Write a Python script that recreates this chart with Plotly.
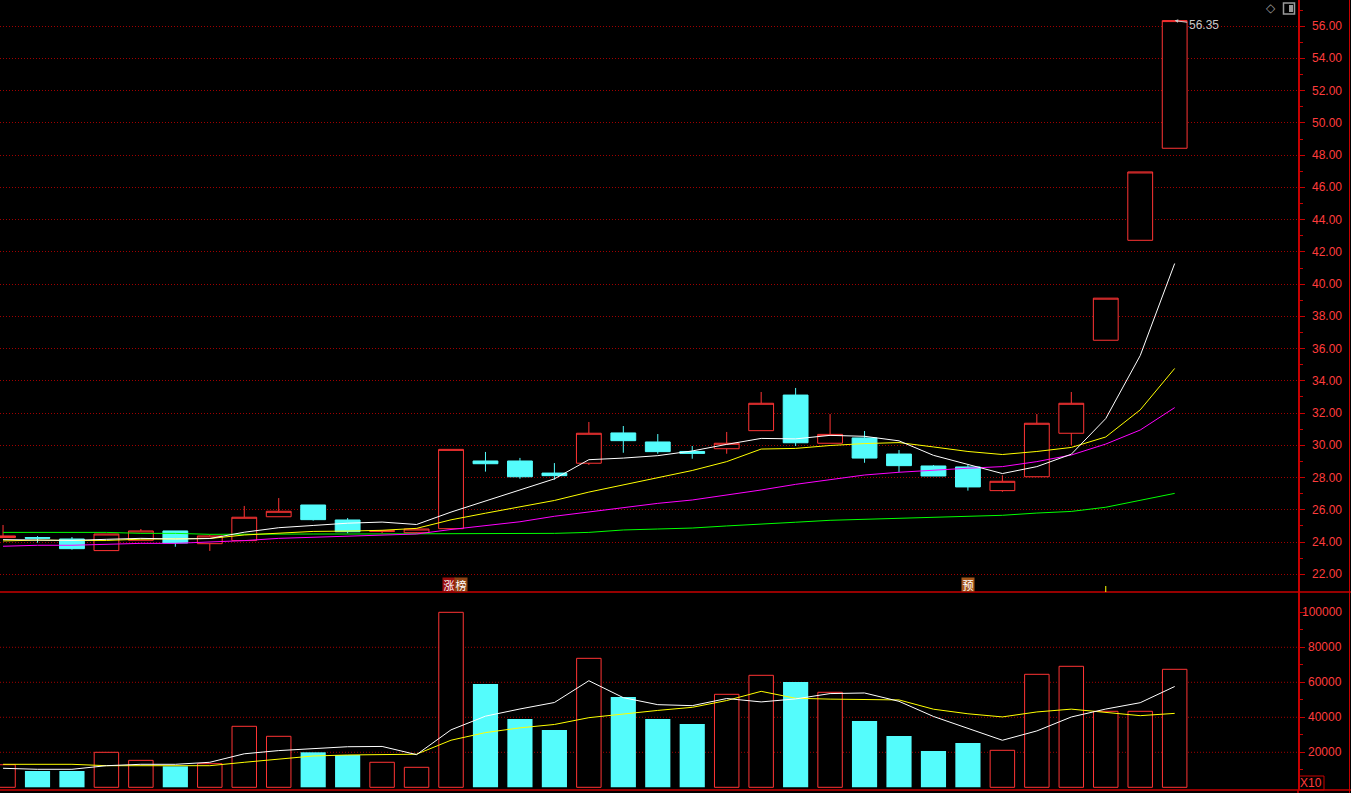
import plotly.graph_objects as go

# ---------------- data ----------------
idx = list(range(35))

opens = [24.28, 24.28, 24.19, 23.47, 24.11, 24.69, 23.90, 24.09, 25.57, 26.30,
         25.37, 24.66, 24.58, 24.83, 29.03, 29.03, 28.28, 28.89, 30.77, 30.21,
         29.62, 29.79, 30.91, 33.12, 30.13, 30.46, 29.46, 28.72, 28.66, 27.19,
         28.05, 30.75, 36.52, 42.72, 48.43]
highs = [25.06, 24.37, 24.31, 24.50, 24.81, 24.69, 24.44, 26.24, 26.73, 26.30,
         25.49, 24.75, 24.85, 29.75, 29.59, 29.22, 28.90, 31.45, 31.20, 30.70,
         29.96, 30.83, 33.31, 33.56, 31.94, 30.89, 29.71, 28.78, 28.78, 28.14,
         31.94, 33.31, 39.13, 46.96, 56.35]
lows = [24.28, 23.96, 23.53, 23.47, 24.10, 23.71, 23.45, 24.09, 25.57, 25.33,
        24.54, 24.55, 24.55, 24.83, 28.37, 27.93, 27.87, 28.78, 29.54, 29.48,
        29.17, 29.48, 30.91, 29.96, 30.13, 28.92, 28.35, 28.10, 27.19, 27.12,
        28.05, 30.02, 36.52, 42.72, 48.43]
closes = [24.38, 24.24, 23.59, 24.50, 24.69, 23.94, 24.38, 25.54, 25.91, 25.39,
          24.64, 24.70, 24.81, 29.75, 28.86, 28.05, 28.12, 30.75, 30.29, 29.61,
          29.50, 30.13, 32.61, 30.16, 30.68, 29.21, 28.74, 28.10, 27.42, 27.77,
          31.37, 32.61, 39.13, 46.96, 56.35]

ma5 = [24.15, 24.12, 24.10, 24.17, 24.23, 24.19, 24.22, 24.61, 24.89, 25.03,
       25.17, 25.24, 25.09, 25.86, 26.55, 27.23, 27.92, 29.11, 29.21, 29.36,
       29.65, 30.06, 30.43, 30.40, 30.62, 30.56, 30.28, 29.38, 28.83, 28.25,
       28.68, 29.45, 31.66, 35.57, 41.28]
ma10 = [24.07, 24.12, 24.10, 24.10, 24.18, 24.19, 24.22, 24.44, 24.54, 24.66,
        24.68, 24.73, 24.85, 25.38, 25.79, 26.20, 26.58, 27.10, 27.54, 27.96,
        28.44, 28.99, 29.77, 29.81, 29.99, 30.11, 30.17, 29.90, 29.62, 29.43,
        29.62, 29.87, 30.52, 32.20, 34.77]
ma20 = [23.74, 23.80, 23.80, 23.86, 23.92, 23.92, 23.99, 24.09, 24.23, 24.29,
        24.38, 24.44, 24.50, 24.78, 25.00, 25.26, 25.60, 25.88, 26.16, 26.40,
        26.61, 26.90, 27.23, 27.58, 27.85, 28.16, 28.33, 28.47, 28.58, 28.68,
        28.99, 29.40, 30.08, 30.95, 32.34]
ma60 = [24.60, 24.60, 24.60, 24.60, 24.54, 24.54, 24.48, 24.50, 24.50, 24.50,
        24.50, 24.50, 24.50, 24.50, 24.50, 24.54, 24.54, 24.60, 24.75, 24.81,
        24.87, 25.00, 25.10, 25.23, 25.35, 25.41, 25.47, 25.54, 25.60, 25.66,
        25.80, 25.90, 26.16, 26.57, 27.02]

volumes = [12900, 9300, 9300, 20000, 15400, 12000, 13500, 34850, 29140, 20000,
           18450, 14300, 11430, 100000, 59030, 39030, 32740, 73700, 51600, 39030,
           36170, 53140, 64000, 60170, 54290, 37890, 29310, 20740, 25310, 21140,
           64570, 69140, 43430, 43430, 67430]
vol_ma5 = [10860, 10290, 10290, 12340, 13140, 13140, 14290, 19150, 20980, 21900,
           23190, 23350, 18660, 32840, 40640, 44760, 48450, 60900, 51220, 47220,
           46650, 50730, 48790, 50500, 53550, 53900, 49130, 40480, 33510, 26880,
           32210, 40180, 44720, 48340, 57600]
vol_ma10 = [13140, 13140, 13140, 12340, 12340, 12340, 12340, 14290, 16000, 17890,
            18460, 18860, 18910, 26910, 31270, 33970, 35900, 39780, 42030, 43930,
            45700, 49590, 54840, 50860, 50390, 50270, 49930, 44630, 42010, 40220,
            43060, 44660, 42600, 40930, 42240]

price_ticks = [22, 24, 26, 28, 30, 32, 34, 36, 38, 40, 42, 44, 46, 48, 50, 52, 54, 56]
price_minor = [23, 25, 27, 29, 31, 33, 35, 37, 39, 41, 43, 45, 47, 49, 51, 53, 55, 57]
vol_ticks = [20000, 40000, 60000, 80000, 100000]
vol_grid = [20000, 40000, 60000, 80000]
vol_minor = [10000, 30000, 50000, 70000, 90000]

marker_labels = [(13, ["涨", "榜"], ["#9a0c0c", "#8e4212"]), (28, ["预"], ["#a6561a"])]
high_label = "56.35"

# ---------------- styling / geometry ----------------
W, H = 1351, 793
PW = 1298          # plot width (px) – axis line at right edge
PH = 790           # plot height (px)
SPLIT = 592        # px where price panel ends
BG = "#000000"
RED = "#ff3434"
CYAN = "#54fcfc"
AXIS = "#c80000"
GRID = "#a00000"
LABEL = "#ff3c3c"
FONT = "Liberation Sans, Arial, sans-serif"

step_px = 34.46
x0_px = 3.04
xmin = -x0_px / step_px
xmax = xmin + PW / step_px

split_paper = 1 - SPLIT / PH

def py(px):
    return 1 - px / PH

def pxx(px):
    return px / PW

fig = go.Figure()

fig.add_trace(go.Candlestick(
    x=idx, open=opens, high=highs, low=lows, close=closes,
    increasing=dict(line=dict(color=RED, width=1), fillcolor=BG),
    decreasing=dict(line=dict(color=CYAN, width=1), fillcolor=CYAN),
    whiskerwidth=0, showlegend=False, hoverinfo="skip",
    xaxis="x", yaxis="y"))

for vals, col in [(ma60, "#00ff00"), (ma20, "#ff00ff"), (ma10, "#ffff00"), (ma5, "#ffffff")]:
    fig.add_trace(go.Scatter(x=idx, y=vals, mode="lines", line=dict(color=col, width=1),
                             showlegend=False, hoverinfo="skip", xaxis="x", yaxis="y"))

up_x = [i for i in idx if closes[i] >= opens[i]]
dn_x = [i for i in idx if closes[i] < opens[i]]
fig.add_trace(go.Bar(x=up_x, y=[volumes[i] for i in up_x], width=0.71,
                     marker=dict(color=BG, line=dict(color=RED, width=1)),
                     showlegend=False, hoverinfo="skip", xaxis="x", yaxis="y2"))
fig.add_trace(go.Bar(x=dn_x, y=[volumes[i] for i in dn_x], width=0.73,
                     marker=dict(color=CYAN, line=dict(width=0)),
                     showlegend=False, hoverinfo="skip", xaxis="x", yaxis="y2"))
for vals, col in [(vol_ma10, "#ffff00"), (vol_ma5, "#ffffff")]:
    fig.add_trace(go.Scatter(x=idx, y=vals, mode="lines", line=dict(color=col, width=1),
                             showlegend=False, hoverinfo="skip", xaxis="x", yaxis="y2"))

shapes = []
# volume grid lines
for v in vol_grid:
    shapes.append(dict(type="line", xref="paper", x0=0, x1=1, yref="y2", y0=v, y1=v,
                       line=dict(color=GRID, width=1, dash="1px,2px"), layer="below"))
# panel separators and borders
shapes.append(dict(type="line", xref="paper", x0=0, x1=W / PW, yref="paper",
                   y0=split_paper, y1=split_paper, line=dict(color=AXIS, width=1.5)))
shapes.append(dict(type="line", xref="paper", x0=0, x1=W / PW, yref="paper",
                   y0=py(790), y1=py(790), line=dict(color=AXIS, width=1.5)))
shapes.append(dict(type="line", xref="paper", x0=pxx(1349.5), x1=pxx(1349.5), yref="paper",
                   y0=py(793), y1=1, line=dict(color=AXIS, width=1)))
shapes.append(dict(type="line", xref="paper", x0=pxx(PW), x1=pxx(PW), yref="paper",
                   y0=py(793), y1=py(790), line=dict(color=AXIS, width=1.5)))
# X10 box
shapes.append(dict(type="rect", xref="paper", yref="paper", x0=pxx(1299), x1=pxx(1324),
                   y0=py(790), y1=py(776), line=dict(color=AXIS, width=1)))
# small yellow tick near bottom of price panel
shapes.append(dict(type="line", xref="x", x0=32, x1=32, yref="paper",
                   y0=split_paper, y1=py(586), line=dict(color="#ffff00", width=1)))
# top-right icon (square)
shapes.append(dict(type="rect", xref="paper", yref="paper", x0=pxx(1283.5), x1=pxx(1294.5),
                   y0=py(14), y1=py(3), line=dict(color="#9a9a9a", width=1.5)))
shapes.append(dict(type="rect", xref="paper", yref="paper", x0=pxx(1289), x1=pxx(1293),
                   y0=py(12), y1=py(5), line=dict(width=0), fillcolor="#9a9a9a"))

annotations = []
for v in price_ticks:
    annotations.append(dict(xref="paper", x=pxx(1344), xanchor="right", yref="y", y=v,
                            yanchor="middle", text=f"{v:.2f}", showarrow=False,
                            font=dict(family=FONT, size=12, color=LABEL)))
for v in vol_ticks:
    annotations.append(dict(xref="paper", x=pxx(1344), xanchor="right", yref="y2", y=v,
                            yanchor="middle", text=f"{v}", showarrow=False,
                            font=dict(family=FONT, size=12, color=LABEL)))
annotations.append(dict(xref="paper", x=pxx(1311.5), xanchor="center", yref="paper",
                        y=py(783), yanchor="middle", text="X10",
                        showarrow=False, font=dict(family=FONT, size=12, color=LABEL)))
annotations.append(dict(xref="x", x=idx[-1], yref="y", y=highs[-1], text=high_label,
                        showarrow=True, ax=29, ay=4, arrowhead=2, arrowsize=0.7,
                        arrowwidth=1, arrowcolor="#c8c8c8", standoff=0,
                        font=dict(family=FONT, size=12, color="#c8c8c8")))
for ci, chars, cols in marker_labels:
    n = len(chars)
    for k, (ch, bg) in enumerate(zip(chars, cols)):
        shift = (k - (n - 1) / 2) * 12 - (1.6 if n > 1 else 0) + (6 if n > 1 else 0)
        annotations.append(dict(xref="x", x=ci, xshift=shift, xanchor="center",
                                yref="paper", y=py(584.5),
                                yanchor="middle", text=ch, showarrow=False,
                                width=12, height=13, bgcolor=bg, borderpad=0,
                                font=dict(family="Noto Sans CJK SC", size=11, color="#ffffff")))
annotations.append(dict(xref="paper", x=pxx(1271), xanchor="center", yref="paper",
                        y=py(8.5), yanchor="middle", text="◇",
                        showarrow=False, font=dict(family="DejaVu Sans", size=12, color="#9a9a9a")))

fig.update_layout(
    width=W, height=H, autosize=False,
    margin=dict(l=0, r=W - PW, t=0, b=H - PH, pad=0),
    paper_bgcolor=BG, plot_bgcolor=BG,
    barmode="overlay", boxgap=0.28, boxgroupgap=0, bargap=0.28,
    showlegend=False, hovermode=False,
    xaxis=dict(domain=[0, 1], range=[xmin, xmax], anchor="y2", showgrid=False,
               zeroline=False, showticklabels=False, showline=False, ticks="",
               rangeslider=dict(visible=False), fixedrange=True),
    yaxis=dict(domain=[split_paper, 1], range=[20.902, 57.627], anchor="x", side="right",
               showline=True, linecolor=AXIS, linewidth=1.5, tickmode="array",
               tickvals=price_ticks, ticks="outside", ticklen=5, tickcolor=AXIS,
               showticklabels=False, showgrid=True, gridcolor=GRID, gridwidth=1,
               griddash="1px,2px", zeroline=False, fixedrange=True,
               minor=dict(tickmode="array", tickvals=price_minor, ticks="outside",
                          ticklen=3, tickcolor=AXIS, showgrid=False)),
    yaxis2=dict(domain=[0, split_paper], range=[-1543, 111600], anchor="x", side="right",
                showline=True, linecolor=AXIS, linewidth=1.5, tickmode="array",
                tickvals=vol_ticks, ticks="outside", ticklen=5, tickcolor=AXIS,
                showticklabels=False, showgrid=False, zeroline=False, fixedrange=True,
                minor=dict(tickmode="array", tickvals=vol_minor, ticks="outside",
                           ticklen=3, tickcolor=AXIS, showgrid=False)),
    shapes=shapes, annotations=annotations,
)

fig.write_html("out.html", config={"displayModeBar": False},
               post_script="document.body.style.margin='0px';document.body.style.background='#000';")
